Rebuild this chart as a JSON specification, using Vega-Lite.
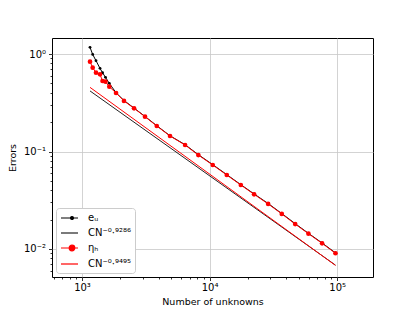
{
  "$schema": "https://vega.github.io/schema/vega-lite/v6.json",
  "width": 321,
  "height": 239,
  "autosize": {"type": "none"},
  "padding": {"left": 52, "top": 38, "right": 42, "bottom": 34},
  "background": "white",
  "config": {
    "font": "DejaVu Sans",
    "view": {"stroke": "black", "strokeWidth": 1},
    "axis": {
      "domain": false,
      "tickColor": "black",
      "tickWidth": 0.8,
      "labelColor": "black",
      "labelFontSize": 10,
      "titleFontSize": 9.5,
      "titleFontWeight": "normal",
      "titleColor": "black",
      "gridColor": "#c8c8c8",
      "gridWidth": 0.8,
      "labelOverlap": false,
      "labelBound": false,
      "labelFlush": false
    }
  },
  "data": {
    "values": [
      {"series": "eᵤ", "N": 1156, "E": 1.17},
      {"series": "eᵤ", "N": 1213, "E": 0.99},
      {"series": "eᵤ", "N": 1288, "E": 0.854},
      {"series": "eᵤ", "N": 1384, "E": 0.713},
      {"series": "eᵤ", "N": 1449, "E": 0.643},
      {"series": "eᵤ", "N": 1528, "E": 0.577},
      {"series": "eᵤ", "N": 1637, "E": 0.50},
      {"series": "eᵤ", "N": 1849, "E": 0.401},
      {"series": "eᵤ", "N": 2133, "E": 0.334},
      {"series": "eᵤ", "N": 2559, "E": 0.279},
      {"series": "eᵤ", "N": 3119, "E": 0.229},
      {"series": "eᵤ", "N": 3855, "E": 0.184},
      {"series": "eᵤ", "N": 4898, "E": 0.145},
      {"series": "eᵤ", "N": 6427, "E": 0.1175},
      {"series": "eᵤ", "N": 8166, "E": 0.0928},
      {"series": "eᵤ", "N": 10593, "E": 0.0733},
      {"series": "eᵤ", "N": 13646, "E": 0.0579},
      {"series": "eᵤ", "N": 17579, "E": 0.0457},
      {"series": "eᵤ", "N": 22336, "E": 0.0367},
      {"series": "eᵤ", "N": 28774, "E": 0.0293},
      {"series": "eᵤ", "N": 36813, "E": 0.0231},
      {"series": "eᵤ", "N": 46881, "E": 0.0182},
      {"series": "eᵤ", "N": 59566, "E": 0.01448},
      {"series": "eᵤ", "N": 76208, "E": 0.01153},
      {"series": "eᵤ", "N": 97045, "E": 0.00912},
      {"series": "CN⁻⁰·⁹²⁸⁶", "N": 1156, "E": 0.418},
      {"series": "CN⁻⁰·⁹²⁸⁶", "N": 97045, "E": 0.00683},
      {"series": "ηₕ", "N": 1156, "E": 0.834},
      {"series": "ηₕ", "N": 1213, "E": 0.724},
      {"series": "ηₕ", "N": 1288, "E": 0.643},
      {"series": "ηₕ", "N": 1384, "E": 0.619},
      {"series": "ηₕ", "N": 1449, "E": 0.529},
      {"series": "ηₕ", "N": 1528, "E": 0.520},
      {"series": "ηₕ", "N": 1637, "E": 0.462},
      {"series": "ηₕ", "N": 1849, "E": 0.398},
      {"series": "ηₕ", "N": 2133, "E": 0.330},
      {"series": "ηₕ", "N": 2559, "E": 0.2774},
      {"series": "ηₕ", "N": 3119, "E": 0.2275},
      {"series": "ηₕ", "N": 3855, "E": 0.1827},
      {"series": "ηₕ", "N": 4898, "E": 0.1442},
      {"series": "ηₕ", "N": 6427, "E": 0.1166},
      {"series": "ηₕ", "N": 8166, "E": 0.0920},
      {"series": "ηₕ", "N": 10593, "E": 0.0727},
      {"series": "ηₕ", "N": 13646, "E": 0.0574},
      {"series": "ηₕ", "N": 17579, "E": 0.0453},
      {"series": "ηₕ", "N": 22336, "E": 0.0364},
      {"series": "ηₕ", "N": 28774, "E": 0.0290},
      {"series": "ηₕ", "N": 36813, "E": 0.0229},
      {"series": "ηₕ", "N": 46881, "E": 0.0180},
      {"series": "ηₕ", "N": 59566, "E": 0.01435},
      {"series": "ηₕ", "N": 76208, "E": 0.01143},
      {"series": "ηₕ", "N": 97045, "E": 0.00904},
      {"series": "CN⁻⁰·⁹⁴⁹⁵", "N": 1156, "E": 0.455},
      {"series": "CN⁻⁰·⁹⁴⁹⁵", "N": 97045, "E": 0.00679}
    ]
  },
  "encoding": {
    "x": {
      "field": "N",
      "type": "quantitative",
      "title": "Number of unknowns",
      "scale": {"type": "log", "domain": [582, 191000], "nice": false},
      "axis": {
        "values": [600, 700, 800, 900, 1000, 2000, 3000, 4000, 5000, 6000, 7000, 8000, 9000, 10000, 20000, 30000, 40000, 50000, 60000, 70000, 80000, 90000, 100000],
        "labelExpr": "datum.value == 1000 ? '10³' : datum.value == 10000 ? '10⁴' : datum.value == 100000 ? '10⁵' : ''",
        "tickSize": {"condition": {"test": "abs(log(datum.value)/LN10 - round(log(datum.value)/LN10)) < 1e-6", "value": 3.5}, "value": 2},
        "gridOpacity": {"condition": {"test": "abs(log(datum.value)/LN10 - round(log(datum.value)/LN10)) < 1e-6", "value": 1}, "value": 0},
        "labelPadding": 2,
        "titlePadding": 4
      }
    },
    "y": {
      "field": "E",
      "type": "quantitative",
      "title": "Errors",
      "scale": {"type": "log", "domain": [0.00516, 1.46], "nice": false},
      "axis": {
        "values": [0.006, 0.007, 0.008, 0.009, 0.01, 0.02, 0.03, 0.04, 0.05, 0.06, 0.07, 0.08, 0.09, 0.1, 0.2, 0.3, 0.4, 0.5, 0.6, 0.7, 0.8, 0.9, 1],
        "labelExpr": "datum.value == 1 ? '10⁰' : datum.value == 0.1 ? '10⁻¹' : datum.value == 0.01 ? '10⁻²' : ''",
        "tickSize": {"condition": {"test": "abs(log(datum.value)/LN10 - round(log(datum.value)/LN10)) < 1e-6", "value": 3.5}, "value": 2},
        "gridOpacity": {"condition": {"test": "abs(log(datum.value)/LN10 - round(log(datum.value)/LN10)) < 1e-6", "value": 1}, "value": 0},
        "labelPadding": 3,
        "titlePadding": 6
      }
    }
  },
  "layer": [
    {
      "mark": {"type": "line", "strokeWidth": 1},
      "encoding": {
        "color": {
          "field": "series",
          "type": "nominal",
          "sort": null,
          "scale": {
            "domain": ["eᵤ", "CN⁻⁰·⁹²⁸⁶", "ηₕ", "CN⁻⁰·⁹⁴⁹⁵"],
            "range": ["black", "#222222", "red", "red"]
          },
          "legend": {
            "title": null,
            "orient": "bottom-left",
            "offset": 4,
            "fillColor": "white",
            "strokeColor": "#cccccc",
            "cornerRadius": 3,
            "padding": 4,
            "rowPadding": 4,
            "symbolSize": 100,
            "symbolStrokeWidth": 1.2,
            "labelFontSize": 10,
            "labelColor": "black",
            "labelOffset": 16,
            "encode": {
              "symbols": {
                "update": {
                  "shape": {"signal": "datum.value == 'eᵤ' ? 'M-1,0L2.4,0M0.9,0A0.3,0.3,0,1,1,1.5,0A0.3,0.3,0,1,1,0.9,0Z' : datum.value == 'ηₕ' ? 'M-1,0L2.4,0M0.64,0A0.56,0.56,0,1,1,1.76,0A0.56,0.56,0,1,1,0.64,0Z' : 'M-1,0L2.4,0'"},
                  "fill": {"signal": "scale('color', datum.value)"},
                  "stroke": {"signal": "scale('color', datum.value)"}
                }
              }
            }
          }
        }
      }
    },
    {
      "transform": [{"filter": "datum.series == 'eᵤ' || datum.series == 'ηₕ'"}],
      "mark": {"type": "point", "filled": true, "opacity": 1},
      "encoding": {
        "color": {"condition": {"test": "datum.series == 'ηₕ'", "value": "red"}, "value": "black"},
        "size": {"condition": {"test": "datum.series == 'ηₕ'", "value": 22}, "value": 8}
      }
    }
  ]
}
